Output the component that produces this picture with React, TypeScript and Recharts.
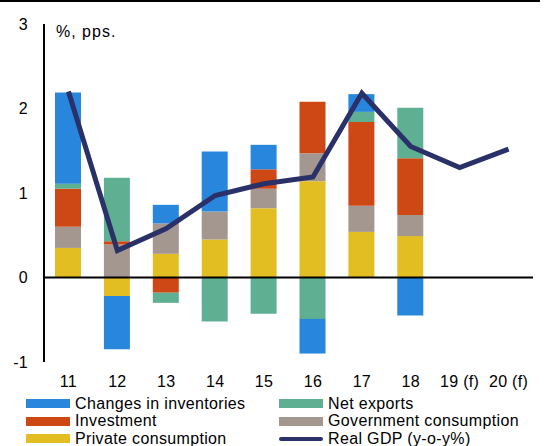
import { Bar, ComposedChart, Customized, Legend, Line, ReferenceLine, XAxis, YAxis } from "recharts";

const years = ["11", "12", "13", "14", "15", "16", "17", "18", "19 (f)", "20 (f)"];
const privateConsumption = [0.35, -0.22, 0.28, 0.45, 0.82, 1.14, 0.54, 0.49, null, null];
const governmentConsumption = [0.25, 0.39, 0.36, 0.33, 0.23, 0.33, 0.31, 0.25, null, null];
const investment = [0.45, 0.04, -0.18, 0, 0.23, 0.61, 0.99, 0.67, null, null];
const netExports = [0.06, 0.75, -0.12, -0.52, -0.43, -0.49, 0.12, 0.6, null, null];
const inventories = [1.08, -0.63, 0.22, 0.71, 0.29, -0.41, 0.21, -0.45, null, null];
const realGdp = [2.2, 0.32, 0.58, 0.97, 1.11, 1.19, 2.18, 1.55, 1.3, 1.52];
const yTicks = [-1, 0, 1, 2, 3];

const FONT = "'Liberation Sans', Arial, sans-serif";

const data = years.map((year, i) => ({
    year,
    privateConsumption: privateConsumption[i],
    governmentConsumption: governmentConsumption[i],
    investment: investment[i],
    netExports: netExports[i],
    inventories: inventories[i],
    realGdp: realGdp[i],
}));

// stacking order, bottom up
const bars = [
    { key: "privateConsumption", name: "Private consumption", color: "#E2BE22" },
    { key: "governmentConsumption", name: "Government consumption", color: "#A39790" },
    { key: "investment", name: "Investment", color: "#CE4816" },
    { key: "netExports", name: "Net exports", color: "#5FAF93" },
    { key: "inventories", name: "Changes in inventories", color: "#2886DC" },
];
const gdpColor = "#2A3068";

// legend: two columns, three rows
const legendColumns = [
    [bars[4], bars[2], bars[0]],
    [bars[3], bars[1], { key: "realGdp", name: "Real GDP (y-o-y%)", color: gdpColor, line: true }],
];

const renderLegend = () => (
    <div style={{ position: "relative", width: 545, height: 54, fontFamily: FONT, fontSize: 16, letterSpacing: 0.35, color: "#000" }}>
        {legendColumns.map((col, c) => (
            <div key={c} style={{ position: "absolute", left: c === 0 ? 26 : 279, top: 0 }}>
                {col.map((item: any) => (
                    <div key={item.key} style={{ display: "flex", alignItems: "center", height: 17.5, whiteSpace: "nowrap" }}>
                        {item.line ? (
                            <div style={{ width: 44, height: 4, borderRadius: 2, background: item.color }} />
                        ) : (
                            <div style={{ width: 44, height: 9, background: item.color }} />
                        )}
                        <span style={{ marginLeft: 5 }}>{item.name}</span>
                    </div>
                ))}
            </div>
        ))}
    </div>
);

const tickStyle = { fill: "#000", fontSize: 16, fontFamily: FONT, letterSpacing: 0.3 };

const App = () => {
    return (
        <div style={{ position: "absolute", left: 0, top: 0, width: 545, height: 446, background: "#fff" }}>
            <div style={{ position: "absolute", left: 0, top: 0, width: 540, height: 2, background: "#000" }} />
            <ComposedChart
                width={545}
                height={446}
                data={data}
                stackOffset="sign"
                margin={{ top: 24, right: 12, left: 0, bottom: 54 }}
            >
                <XAxis
                    dataKey="year"
                    axisLine={false}
                    tickLine={false}
                    tickSize={0}
                    tickMargin={14}
                    height={30}
                    interval={0}
                    tick={tickStyle}
                />
                <YAxis
                    domain={[-1, 3]}
                    ticks={yTicks}
                    width={44}
                    axisLine={{ stroke: "#000", strokeWidth: 2 }}
                    tickLine={false}
                    tickSize={0}
                    tickMargin={16}
                    tick={tickStyle}
                />
                {bars.map((b) => (
                    <Bar key={b.key} dataKey={b.key} name={b.name} stackId="a" fill={b.color} barSize={26} isAnimationActive={false} />
                ))}
                <ReferenceLine y={0} stroke="#000" strokeWidth={1.8} />
                <Line
                    dataKey="realGdp"
                    name="Real GDP (y-o-y%)"
                    stroke={gdpColor}
                    strokeWidth={5}
                    dot={false}
                    type="linear"
                    isAnimationActive={false}
                />
                <Customized
                    component={() => (
                        <text x={56} y={37} fontSize={16} fontFamily={FONT} letterSpacing={1} fill="#000">
                            %, pps.
                        </text>
                    )}
                />
                <Legend
                    layout="horizontal"
                    verticalAlign="middle"
                    align="center"
                    content={renderLegend}
                    wrapperStyle={{ top: 395, left: 0, width: 545, height: 54 }}
                />
            </ComposedChart>
        </div>
    );
};

export default App;
